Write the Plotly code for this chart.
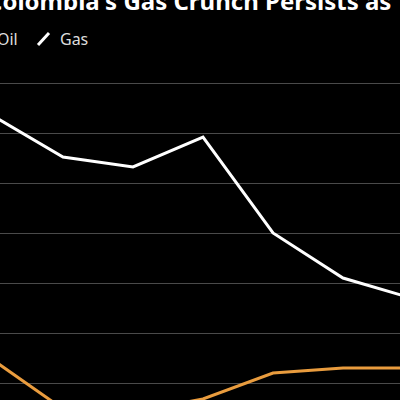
import plotly.graph_objects as go

# Data (arbitrary units, gridlines every 10)
years = [2017, 2018, 2019, 2020, 2021, 2022, 2023]
gas = [53.4, 45.2, 43.2, 49.2, 30.0, 21.0, 16.9]
oil = [4.6, -5.2, -5.8, -3.2, 2.0, 3.0, 3.0]
grid_vals = [0, 10, 20, 30, 40, 50, 60]

title_text = "Colombia's Gas Crunch Persists as"
legend_labels = ["Oil", "Gas"]

OIL_COLOR = "#E99C3E"
GAS_COLOR = "#FFFFFF"

fig = go.Figure()
fig.add_trace(go.Scatter(x=years, y=oil, mode="lines", name="Oil",
                         line=dict(color=OIL_COLOR, width=3), showlegend=False))
fig.add_trace(go.Scatter(x=years, y=gas, mode="lines", name="Gas",
                         line=dict(color=GAS_COLOR, width=3), showlegend=False))

W = H = 400
TOP = 60

def px(xp):
    return xp / W

def py(yp):
    return (H - yp) / (H - TOP)

annotations = [
    dict(text=title_text, xref="paper", yref="paper", x=px(393), y=py(1),
         xanchor="right", yanchor="middle", showarrow=False,
         font=dict(family="Noto Sans", size=24, color="#FFFFFF", weight="bold")),
    dict(text=legend_labels[0], xref="paper", yref="paper", x=px(20), y=py(39),
         xanchor="right", yanchor="middle", showarrow=False,
         font=dict(family="Noto Sans", size=16, color="#DDDDDD")),
    dict(text=legend_labels[1], xref="paper", yref="paper", x=px(58), y=py(39),
         xanchor="left", yanchor="middle", showarrow=False,
         font=dict(family="Noto Sans", size=16, color="#DDDDDD")),
]

shapes = [
    dict(type="line", xref="paper", yref="paper", x0=px(38), y0=py(45), x1=px(49), y1=py(33),
         line=dict(color=GAS_COLOR, width=3)),
    dict(type="line", xref="paper", yref="paper", x0=px(-12), y0=py(45), x1=px(-1), y1=py(33),
         line=dict(color=OIL_COLOR, width=3)),
]

fig.update_layout(
    width=W, height=H,
    margin=dict(l=0, r=0, t=TOP, b=0, pad=0),
    paper_bgcolor="#000000", plot_bgcolor="#000000",
    annotations=annotations, shapes=shapes,
    xaxis=dict(range=[2017.1, 2017 + 407 / 70], visible=False, showgrid=False, zeroline=False),
    yaxis=dict(range=[-3.4, 64.6], tickvals=grid_vals, showticklabels=False,
               showgrid=True, gridcolor="#4a4a4a", gridwidth=1.3, zeroline=False, showline=False),
    showlegend=False,
)

fig.write_html("out.html", config={"displayModeBar": False},
               post_script="document.body.style.margin='0';")
